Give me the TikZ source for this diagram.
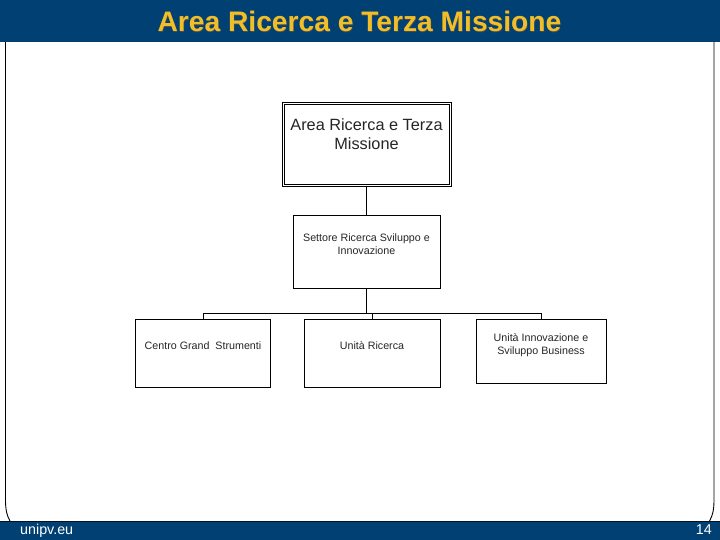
\documentclass[tikz,border=0pt]{standalone}
\usepackage{fontspec}
\setmainfont{Liberation Sans}
\definecolor{unipvblue}{RGB}{0,64,115}
\definecolor{unipvgold}{RGB}{240,190,40}
\tikzset{
    orgbox/.style={draw=black, line width=0.9pt, fill=white, inner sep=0pt},
    orgtext/.style={align=center, inner sep=0pt, text=black!85},
    orgline/.style={draw=black, line width=0.9pt}
}
\begin{document}
\begin{tikzpicture}[x=1pt,y=-1pt]

    \useasboundingbox (0,0) rectangle (720,540);

    % page frame
    \draw [line width=0.9pt] (5.5,42) -- (5.5,500) .. controls (5.5,510) and (7,516) .. (10,521);
    \draw [line width=0.9pt] (714,42) -- (714,500) .. controls (714,510) and (712.5,516) .. (709.5,521);

    % bars
    \fill [unipvblue] (0,0) rectangle (720,42);
    \fill [unipvblue] (0,521) rectangle (720,540);
    \draw [line width=0.7pt, black!70!unipvblue] (0,521) -- (720,521);

    \node (titleshadow) [font=\bfseries\fontsize{28.2}{32}\selectfont, text=black!70, inner sep=0pt] at (360,22) {Area Ricerca e Terza Missione};
    \node (title) [font=\bfseries\fontsize{28.2}{32}\selectfont, text=unipvgold, inner sep=0pt] at (359.5,21.5) {Area Ricerca e Terza Missione};
    \node (site) [anchor=base west, font=\fontsize{14.3}{16}\selectfont, text=white, inner sep=0pt] at (20,534.5) {unipv.eu};
    \node (pagenum) [anchor=base east, font=\fontsize{14.3}{16}\selectfont, text=white, inner sep=0pt] at (712,534.5) {14};

    % boxes
    \node (area) [orgbox, double, double distance=1.2pt, minimum width=167pt, minimum height=82pt] at (367,144.5) {};
    \node (settore) [orgbox, minimum width=147pt, minimum height=73pt] at (366.5,251.5) {};
    \node (centro) [orgbox, minimum width=135pt, minimum height=68pt] at (203,353) {};
    \node (ricerca) [orgbox, minimum width=136pt, minimum height=68pt] at (372.3,353) {};
    \node (innovazione) [orgbox, minimum width=130.5pt, minimum height=64pt] at (541.2,351) {};

    % box texts
    \node (arealabel) [orgtext, font=\fontsize{16.3}{19.5}\selectfont] at (366.5,134) {Area Ricerca e Terza\\Missione};
    \node (settorelabel) [orgtext, font=\fontsize{10.7}{12.8}\selectfont] at (366.5,244.5) {Settore Ricerca Sviluppo e\\Innovazione};
    \node (centrolabel) [orgtext, font=\fontsize{10.7}{12.8}\selectfont] at (203,345.5) {Centro Grand\ \ Strumenti};
    \node (ricercalabel) [orgtext, font=\fontsize{10.7}{12.8}\selectfont] at (372,345.5) {Unità Ricerca};
    \node (innovazionelabel) [orgtext, font=\fontsize{10.7}{12.8}\selectfont] at (541,345) {Unità Innovazione e\\Sviluppo Business};

    % connectors
    \coordinate (branch) at (366.5,313);
    \draw [orgline] (area.south -| branch) -- (settore.north -| branch);
    \draw [orgline] (settore.south -| branch) -- (branch);
    \draw [orgline] (centro.north) -- (centro.north |- branch) -- (innovazione.north |- branch) -- (innovazione.north);
    \draw [orgline] (ricerca.north |- branch) -- (ricerca.north);

\end{tikzpicture}
\end{document}
